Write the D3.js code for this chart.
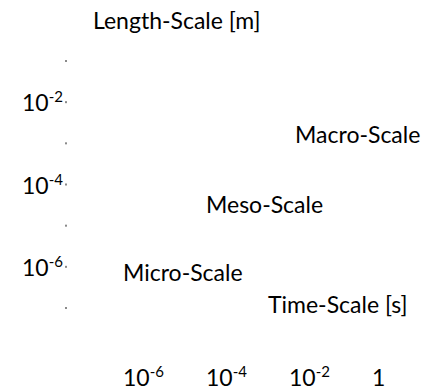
<!DOCTYPE html>
<html>
<head>
<meta charset="utf-8">
<script src="https://cdn.jsdelivr.net/npm/d3@7"></script>
<style>
  html, body { margin: 0; padding: 0; background: #fff; }
  svg text { font-family: Lato, "Open Sans", sans-serif; fill: #000; }
</style>
</head>
<body>
<svg id="chart" width="430" height="392"></svg>
<script>
// Axis ticks (powers of ten)
const lengthTicks = [1e-7, 1e-6, 1e-5, 1e-4, 1e-3, 1e-2, 1e-1];
const lengthLabels = [null, "-6", null, "-4", null, "-2", null];
const timeTicks = [1e-6, 1e-4, 1e-2, 1];
const timeLabels = ["-6", "-4", "-2", null];

// Scale regimes placed at (time, length)
const regionNames = ["Micro-Scale", "Meso-Scale", "Macro-Scale"];
const regionTime = [1e-6, 1e-4, 1.4e-2];
const regionLength = [4.5e-7, 2e-5, 1e-3];

const svg = d3.select("#chart");
const fs = 23, supFs = 15;

const x = d3.scaleLog().domain([1e-6, 1]).range([123, 372]);
const y = d3.scaleLog().domain([1e-7, 1e-1]).range([308, 61]);
const axisX = 66;

// Length axis: small dot tick marks
svg.append("g").selectAll("rect")
  .data(lengthTicks)
  .join("rect")
  .attr("x", axisX - 1)
  .attr("y", d => y(d) - 1)
  .attr("width", 2)
  .attr("height", 2)
  .attr("fill", "#8a8a8a");

// Power-of-ten label helper
function powerLabel(g, exp) {
  if (exp === null) {
    g.append("tspan").text("1");
  } else {
    g.append("tspan").text("10");
    g.append("tspan").attr("font-size", supFs).attr("dy", -9).text(exp);
  }
}

// Length-axis labels, right aligned to the dots
lengthTicks.forEach((v, i) => {
  if (lengthLabels[i] === null) return;
  const t = svg.append("text")
    .attr("x", axisX - 3)
    .attr("y", y(v) + 9)
    .attr("font-size", fs)
    .attr("text-anchor", "end");
  powerLabel(t, lengthLabels[i]);
});

// Time-axis labels
timeTicks.forEach((v, i) => {
  const t = svg.append("text")
    .attr("x", x(v))
    .attr("y", 386)
    .attr("font-size", fs);
  powerLabel(t, timeLabels[i]);
});

// Axis titles
svg.append("text").attr("x", 93).attr("y", 29).attr("font-size", fs)
  .text("Length-Scale [m]");
svg.append("text").attr("x", 268).attr("y", 313).attr("font-size", fs)
  .text("Time-Scale [s]");

// Regime labels
svg.append("g").selectAll("text")
  .data(regionNames)
  .join("text")
  .attr("x", (d, i) => x(regionTime[i]))
  .attr("y", (d, i) => y(regionLength[i]))
  .attr("font-size", fs)
  .text(d => d);
</script>
</body>
</html>
